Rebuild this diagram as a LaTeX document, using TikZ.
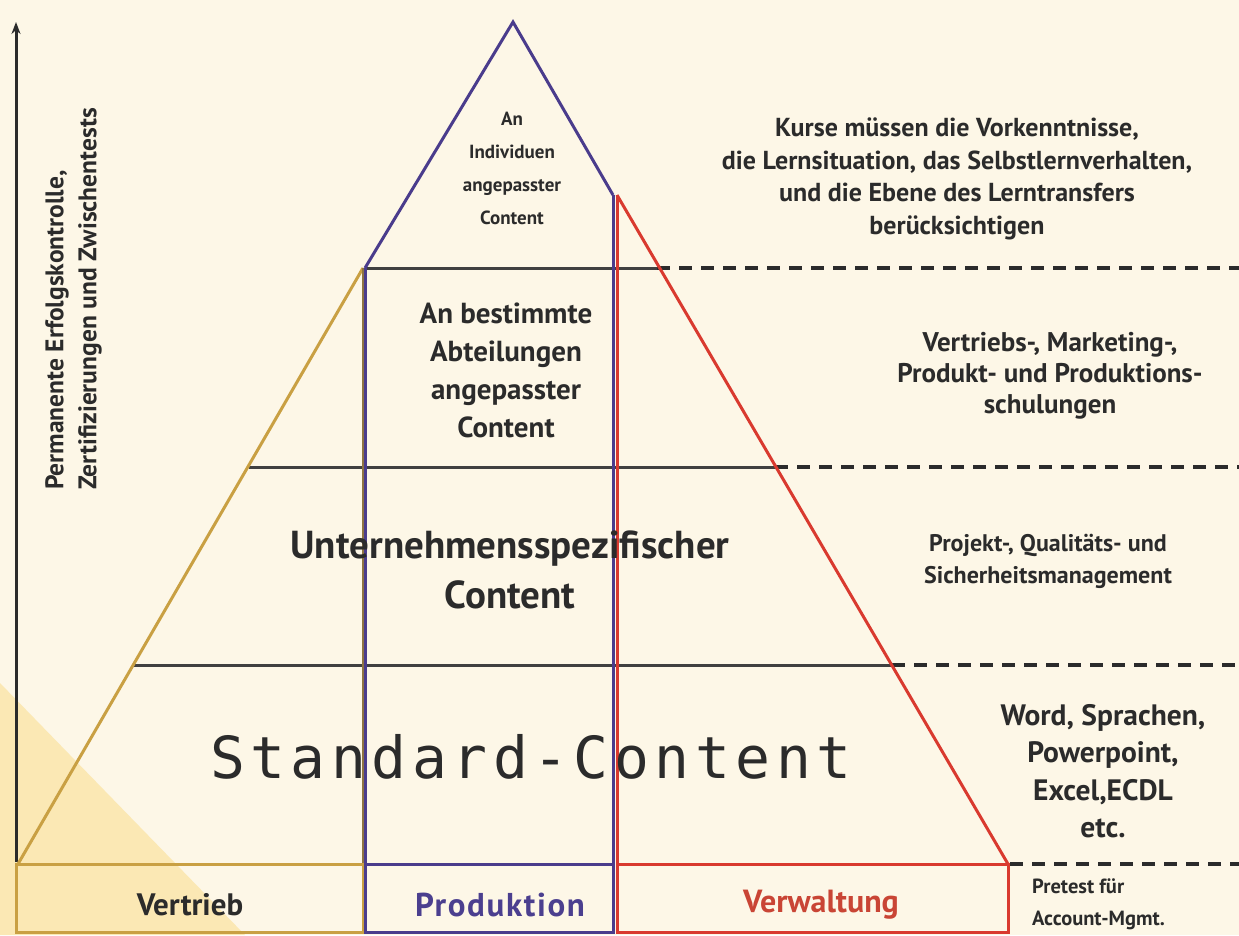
\documentclass[tikz,border=0pt]{standalone}
\usepackage{fontspec}
\setmainfont{PT Sans}[UprightFont=* Bold]
\newfontfamily\monof{DejaVu Sans Mono}[LetterSpace=9.5]
\usetikzlibrary{arrows.meta}
\definecolor{bg}{HTML}{FDF7E7}
\definecolor{cornershade}{HTML}{FBE8B4}
\definecolor{gold}{HTML}{C9A043}
\definecolor{goldd}{HTML}{8E7443}
\definecolor{purp}{HTML}{4A3C8C}
\definecolor{redl}{HTML}{D93A2F}
\definecolor{ink}{HTML}{2B2B2B}
\definecolor{prodc}{HTML}{4B3F8F}
\definecolor{verwc}{HTML}{C94535}
\tikzset{
  x=1pt, y=-1pt,
  lvl/.style={draw=ink!90, line width=3pt},
  dsh/.style={draw=ink, line width=3.5pt, dash pattern=on 13pt off 9pt},
  goldl/.style={draw=gold, line width=3pt},
  purl/.style={draw=purp, line width=3pt},
  redll/.style={draw=redl, line width=3pt},
  txt/.style={text=ink, align=center, inner sep=0pt},
  fs/.style n args={2}{font=\fontsize{#1}{#2}\selectfont},
}
\begin{document}
\begin{tikzpicture}
\fill[bg] (0,0) rectangle (1239,935);
\useasboundingbox (0,0) rectangle (1239,935);
% shaded corner
\fill[cornershade] (0,683) -- (0,935) -- (245,935) -- cycle;

% coordinates
\coordinate (axb) at (16,862);
\coordinate (axt) at (16,22);
\coordinate (apex) at (513,22);
\coordinate (pl) at (365,268);
\coordinate (pr) at (613,195);
\coordinate (rt) at (617,195);
\coordinate (rb) at (1008,864);
\coordinate (gb) at (18,864);
\coordinate (gt) at (363,268);

% level lines
\coordinate (h1a) at (365,268); \coordinate (h1b) at (657,268); \coordinate (h1c) at (1239,268);
\coordinate (h2a) at (249,467); \coordinate (h2b) at (775,467); \coordinate (h2c) at (1239,467);
\coordinate (h3a) at (133,665); \coordinate (h3b) at (892,665); \coordinate (h3c) at (1239,665);
\coordinate (h4b) at (1010,864); \coordinate (h4c) at (1239,864);
\draw[lvl] (h1a) -- (h1b);
\draw[dsh] (h1b) -- (h1c);
\draw[lvl] (h2a) -- (h2b);
\draw[dsh] (h2b) -- (h2c);
\draw[lvl] (h3a) -- (h3b);
\draw[dsh] (h3b) -- (h3c);
\draw[dsh] (h4b) -- (h4c);

% axis
\draw[ink, line width=3pt, -{Stealth[length=12pt,width=9pt]}] (axb) -- (axt);

% gold (Vertrieb)
\draw[goldl] (gb) -- (gt);
\draw[draw=goldd, line width=3pt] (gt) -- (363,932);
\draw[goldl] (16,864) rectangle (363,932);

% purple (Produktion)
\draw[purl, line join=miter] (pl) -- (apex) -- (pr);
\draw[purl] (pl) -- (365,932);
\draw[purl] (pr) -- (613,932);
\draw[purl] (365,864) rectangle (613,932);

% red (Verwaltung)
\draw[redll] (rt) -- (rb);
\draw[redll] (rt) -- (617,932);
\draw[redll] (617,864) rectangle (1008,932);

% pyramid texts
\node[txt, fs={19}{33}] (t1) at (512,168) {An\\Individuen\\angepasster\\Content};
\node[txt, fs={29}{38}] (t2) at (506,370) {An bestimmte\\Abteilungen\\angepasster\\Content};
\node[txt, fs={39}{50}] (t3) at (510,570) {Unternehmensspezifischer\\Content};
\node[text=ink, inner sep=0pt, anchor=base west, font=\monof\fontsize{58}{60}\selectfont] (t4) at (210,778) {Standard-Content};

% bottom labels
\node[txt, fs={31}{36}] (vt) at (190,905) {Vertrieb};
\node[txt, text=prodc, font=\fontsize{33}{36}\selectfont\addfontfeature{LetterSpace=5}] (pd) at (500,905) {Produktion};
\node[txt, fs={32}{36}, text=verwc] (vw) at (821,905) {Verwaltung};

% right texts
\node[txt, fs={26}{32.5}] (r1) at (957,179) {Kurse müssen die Vorkenntnisse,\\die Lernsituation, das Selbstlernverhalten,\\und die Ebene des Lerntransfers\\berücksichtigen};
\node[txt, fs={27}{31}] (r2) at (1050,376) {Vertriebs-, Marketing-,\\Produkt- und Produktions-\\schulungen};
\node[txt, fs={24}{32}] (r3) at (1048,561) {Projekt-, Qualitäts- und\\Sicherheitsmanagement};
\node[txt, fs={29.5}{37.5}] (r4) at (1103,771) {Word, Sprachen,\\Powerpoint,\\Excel,ECDL\\etc.};
\node[txt, fs={20.5}{32}, align=left, anchor=west] (r5) at (1032,904) {Pretest für\\Account-Mgmt.};

% vertical text
\node[txt, fs={25.5}{33}, align=left, rotate=90, anchor=north west] (vtx) at (45,490) {Permanente Erfolgskontrolle,\\Zertifizierungen und Zwischentests};
\end{tikzpicture}
\end{document}
